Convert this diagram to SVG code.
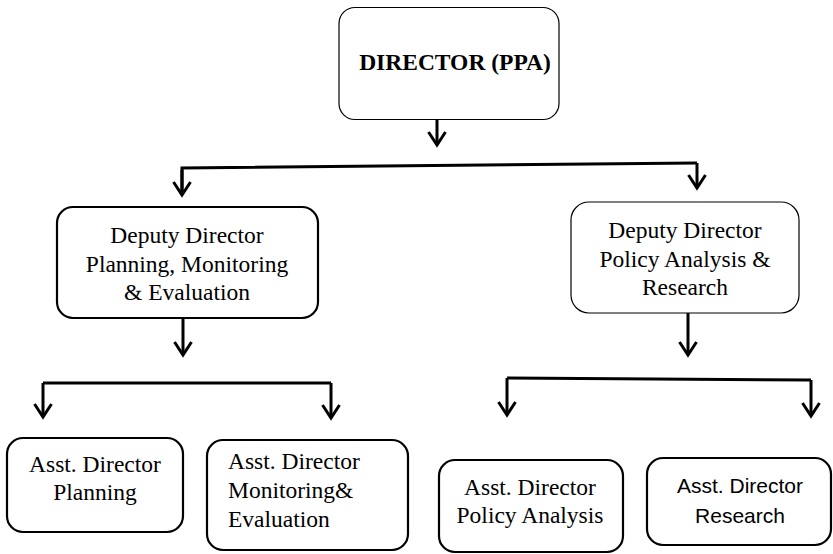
<svg xmlns="http://www.w3.org/2000/svg" width="833" height="554" viewBox="0 0 833 554">
<style>
.box{fill:#fff;stroke:#000}
.thin{stroke-width:1.2}
.thick{stroke-width:2.2}
.t{font-family:"Liberation Serif","Times New Roman",serif;font-size:23.5px;fill:#000}
.s{font-family:"Liberation Sans",Arial,sans-serif;font-size:21px;fill:#000}
.c{text-anchor:middle}
.con{fill:none;stroke:#000;stroke-width:3}
</style>
<defs>
<marker id="ah" viewBox="-16 -12 19 24" refX="0" refY="0" markerWidth="19" markerHeight="24" orient="auto" markerUnits="userSpaceOnUse">
<path d="M-13,-8.5 L0,0 L-13,8.5" fill="none" stroke="#000" stroke-width="3"/>
</marker>
</defs>
<rect width="833" height="554" fill="#fff"/>
<g id="connectors">
<line class="con" x1="437" y1="120" x2="437" y2="145" marker-end="url(#ah)"/>
<polyline class="con" points="182,195 182,168 697,163"/>
<line class="con" x1="182" y1="170" x2="182" y2="195" marker-end="url(#ah)"/>
<line class="con" x1="697" y1="163" x2="697" y2="188" marker-end="url(#ah)"/>
<line class="con" x1="183" y1="318" x2="183" y2="355" marker-end="url(#ah)"/>
<line class="con" x1="43" y1="383" x2="331" y2="383"/>
<line class="con" x1="43" y1="383" x2="43" y2="417" marker-end="url(#ah)"/>
<line class="con" x1="331" y1="383" x2="331" y2="418" marker-end="url(#ah)"/>
<line class="con" x1="688" y1="313" x2="688" y2="355" marker-end="url(#ah)"/>
<line class="con" x1="507" y1="378" x2="811" y2="380"/>
<line class="con" x1="507" y1="378" x2="507" y2="415" marker-end="url(#ah)"/>
<line class="con" x1="811" y1="380" x2="811" y2="416" marker-end="url(#ah)"/>
</g>
<g id="director">
<rect class="box thin" x="339" y="7.5" width="220" height="112" rx="16"/>
<text class="t" x="455" y="70" text-anchor="middle" font-weight="bold" font-size="23px">DIRECTOR (PPA)</text>
</g>
<g id="dd-pme">
<rect class="box thick" x="57" y="207" width="261" height="111" rx="16"/>
<text class="t c" x="187" y="243">Deputy Director</text>
<text class="t c" x="187" y="272">Planning, Monitoring</text>
<text class="t c" x="187" y="300">&amp; Evaluation</text>
</g>
<g id="dd-par">
<rect class="box thin" x="571" y="202" width="228" height="111" rx="18"/>
<text class="t c" x="685" y="238">Deputy Director</text>
<text class="t c" x="685" y="267">Policy Analysis &amp;</text>
<text class="t c" x="685" y="295">Research</text>
</g>
<g id="ad-planning">
<rect class="box thick" x="7" y="438" width="176" height="94" rx="16"/>
<text class="t c" x="95" y="472">Asst. Director</text>
<text class="t c" x="95" y="500">Planning</text>
</g>
<g id="ad-me">
<rect class="box thick" x="207" y="440" width="201" height="110" rx="16"/>
<text class="t" x="228" y="469">Asst. Director</text>
<text class="t" x="228" y="498">Monitoring&amp;</text>
<text class="t" x="228" y="527">Evaluation</text>
</g>
<g id="ad-pa">
<rect class="box thick" x="439" y="460" width="184" height="92" rx="16"/>
<text class="t c" x="530" y="495">Asst. Director</text>
<text class="t c" x="530" y="523">Policy Analysis</text>
</g>
<g id="ad-research">
<rect class="box thick" x="647" y="458" width="184" height="87" rx="16"/>
<text class="s c" x="740" y="493">Asst. Director</text>
<text class="s c" x="740" y="523">Research</text>
</g>
</svg>
